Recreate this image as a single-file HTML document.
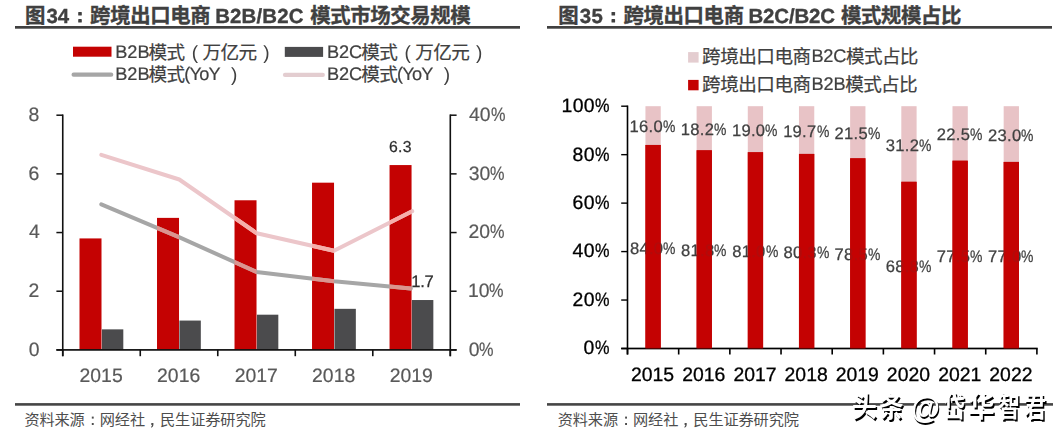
<!DOCTYPE html>
<html lang="zh">
<head>
<meta charset="utf-8">
<title>跨境出口电商 B2B/B2C 模式市场交易规模</title>
<style>
html,body{margin:0;padding:0;background:#fff;}
body{width:1062px;height:436px;overflow:hidden;position:relative;font-family:"Liberation Sans",sans-serif;}
#page{position:absolute;left:0;top:0;width:1062px;height:436px;overflow:hidden;background:#fff;}
#tx{position:absolute;left:0;top:0;width:1062px;height:436px;will-change:transform;}
svg{position:absolute;left:0;top:0;}
.t{position:absolute;white-space:pre;line-height:1;transform-origin:0 0;text-rendering:geometricPrecision;font-family:"Liberation Sans",sans-serif;}
.p{display:inline-block;transform:scaleX(0.84);transform-origin:0 0;margin-right:-0.1422em;}
.h{position:absolute;white-space:pre;line-height:1;color:transparent;font-family:"Liberation Sans",sans-serif;pointer-events:none;}
</style>
</head>
<body>
<div id="page">
<svg width="1062" height="436" viewBox="0 0 1062 436">
<rect x="15" y="26" width="505" height="2.7" fill="#404040"/>
<rect x="15" y="403.1" width="505" height="2.6" fill="#454545"/>
<text x="25.03" y="23.2" font-size="20.4" font-weight="bold" fill="#404040" stroke="#404040" stroke-width="0.35" font-family='"Liberation Sans","Noto Sans CJK SC",sans-serif'>图</text>
<rect x="78.2" y="12" width="3.6" height="3.5" fill="#404040" rx="0.6"/>
<rect x="78.2" y="19.1" width="3.6" height="3.5" fill="#404040" rx="0.6"/>
<text x="90.10 110.15 130.20 150.25 170.30 190.35" y="23.2" font-size="20.4" font-weight="bold" fill="#404040" stroke="#404040" stroke-width="0.35" font-family='"Liberation Sans","Noto Sans CJK SC",sans-serif'>跨境出口电商</text>
<text x="310.23 330.23 350.23 370.23 390.23 410.23 430.23 450.23" y="23.2" font-size="20.4" font-weight="bold" fill="#404040" stroke="#404040" stroke-width="0.35" font-family='"Liberation Sans","Noto Sans CJK SC",sans-serif'>模式市场交易规模</text>
<rect x="547" y="26" width="505" height="2.7" fill="#404040"/>
<rect x="547" y="403.1" width="506" height="2.6" fill="#454545"/>
<text x="558.33" y="23.2" font-size="20.4" font-weight="bold" fill="#404040" stroke="#404040" stroke-width="0.35" font-family='"Liberation Sans","Noto Sans CJK SC",sans-serif'>图</text>
<rect x="611.5" y="12" width="3.6" height="3.5" fill="#404040" rx="0.6"/>
<rect x="611.5" y="19.1" width="3.6" height="3.5" fill="#404040" rx="0.6"/>
<text x="623.40 643.45 663.50 683.55 703.60 723.65" y="23.2" font-size="20.4" font-weight="bold" fill="#404040" stroke="#404040" stroke-width="0.35" font-family='"Liberation Sans","Noto Sans CJK SC",sans-serif'>跨境出口电商</text>
<text x="841.03 861.03 881.03 901.03 921.03 941.03" y="23.2" font-size="20.4" font-weight="bold" fill="#404040" stroke="#404040" stroke-width="0.35" font-family='"Liberation Sans","Noto Sans CJK SC",sans-serif'>模式规模占比</text>
<text x="24.40 39.47 54.54 69.61" y="425.2" font-size="15.2" fill="#4d4d4d" font-family='"Liberation Sans","Noto Sans CJK SC",sans-serif'>资料来源</text>
<rect x="91.8" y="416.6" width="1.9" height="2" fill="#4d4d4d"/>
<rect x="91.8" y="423" width="1.9" height="2" fill="#4d4d4d"/>
<text x="99.75 114.82 129.89" y="425.2" font-size="15.2" fill="#4d4d4d" font-family='"Liberation Sans","Noto Sans CJK SC",sans-serif'>网经社</text>
<path d="M151.3 422.9h2.1v2.1q0 1.8-1.9 2.7l-.5-.8q1-.6 1-1.8h-.7z" fill="#4d4d4d"/>
<text x="160.03 175.10 190.17 205.24 220.31 235.38 250.45" y="425.2" font-size="15.2" fill="#4d4d4d" font-family='"Liberation Sans","Noto Sans CJK SC",sans-serif'>民生证券研究院</text>
<text x="557.70 572.77 587.84 602.91" y="425.2" font-size="15.2" fill="#4d4d4d" font-family='"Liberation Sans","Noto Sans CJK SC",sans-serif'>资料来源</text>
<rect x="625.1" y="416.6" width="1.9" height="2" fill="#4d4d4d"/>
<rect x="625.1" y="423" width="1.9" height="2" fill="#4d4d4d"/>
<text x="633.05 648.12 663.19" y="425.2" font-size="15.2" fill="#4d4d4d" font-family='"Liberation Sans","Noto Sans CJK SC",sans-serif'>网经社</text>
<path d="M684.6 422.9h2.1v2.1q0 1.8-1.9 2.7l-.5-.8q1-.6 1-1.8h-.7z" fill="#4d4d4d"/>
<text x="693.33 708.40 723.47 738.54 753.61 768.68 783.75" y="425.2" font-size="15.2" fill="#4d4d4d" font-family='"Liberation Sans","Noto Sans CJK SC",sans-serif'>民生证券研究院</text>
<clipPath id="redclip"><rect x="79.5" y="238.42" width="22" height="111.48"/><rect x="157.02" y="217.88" width="22" height="132.02"/><rect x="234.52" y="200.28" width="22" height="149.62"/><rect x="312.04" y="182.68" width="22" height="167.22"/><rect x="389.55" y="165.07" width="22" height="184.83"/></clipPath>
<rect x="79.5" y="238.42" width="22" height="111.48" fill="#c40202"/>
<rect x="101.91" y="329.36" width="21.4" height="20.54" fill="#4b4b4d"/>
<rect x="157.02" y="217.88" width="22" height="132.02" fill="#c40202"/>
<rect x="179.42" y="320.56" width="21.4" height="29.34" fill="#4b4b4d"/>
<rect x="234.52" y="200.28" width="22" height="149.62" fill="#c40202"/>
<rect x="256.92" y="314.69" width="21.4" height="35.2" fill="#4b4b4d"/>
<rect x="312.04" y="182.68" width="22" height="167.22" fill="#c40202"/>
<rect x="334.44" y="308.83" width="21.4" height="41.07" fill="#4b4b4d"/>
<rect x="389.55" y="165.07" width="22" height="184.83" fill="#c40202"/>
<rect x="411.94" y="300.03" width="21.4" height="49.87" fill="#4b4b4d"/>
<rect x="61.95" y="114.45" width="1.6" height="241.75" fill="#111"/>
<rect x="56.4" y="114.45" width="6.35" height="1.5" fill="#111"/>
<rect x="56.4" y="173.12" width="6.35" height="1.5" fill="#111"/>
<rect x="56.4" y="231.8" width="6.35" height="1.5" fill="#111"/>
<rect x="56.4" y="290.47" width="6.35" height="1.5" fill="#111"/>
<rect x="56.4" y="349.15" width="6.35" height="1.5" fill="#111"/>
<rect x="56.4" y="349.05" width="400.2" height="1.7" fill="#111"/>
<rect x="61.95" y="349.9" width="1.6" height="6.3" fill="#111"/>
<rect x="139.46" y="349.9" width="1.6" height="6.3" fill="#111"/>
<rect x="216.97" y="349.9" width="1.6" height="6.3" fill="#111"/>
<rect x="294.48" y="349.9" width="1.6" height="6.3" fill="#111"/>
<rect x="371.99" y="349.9" width="1.6" height="6.3" fill="#111"/>
<rect x="449.5" y="349.9" width="1.6" height="6.3" fill="#111"/>
<rect x="449.5" y="114.45" width="1.6" height="241.75" fill="#111"/>
<rect x="450.3" y="114.45" width="6.3" height="1.5" fill="#111"/>
<rect x="450.3" y="173.12" width="6.3" height="1.5" fill="#111"/>
<rect x="450.3" y="231.8" width="6.3" height="1.5" fill="#111"/>
<rect x="450.3" y="290.47" width="6.3" height="1.5" fill="#111"/>
<rect x="450.3" y="349.15" width="6.3" height="1.5" fill="#111"/>
<path d="M101.3 204.3 L179 237.2 L256.5 271.9 L334 281.3 L410.8 288.6" fill="none" stroke="#a6a6a6" stroke-width="4" stroke-linecap="round" stroke-linejoin="round"/>
<path d="M101.3 154.8 L179.3 179.5 L256.8 233.3 L334 250.7 L412.2 211.2" fill="none" stroke="#ecc6ca" stroke-width="4" stroke-linecap="round" stroke-linejoin="round"/>
<path d="M101.3 204.3 L179 237.2 L256.5 271.9 L334 281.3 L410.8 288.6" fill="none" stroke="#dc948f" stroke-width="4" stroke-linecap="round" stroke-linejoin="round" clip-path="url(#redclip)"/>
<path d="M101.3 154.8 L179.3 179.5 L256.8 233.3 L334 250.7 L412.2 211.2" fill="none" stroke="#f6aeaa" stroke-width="4" stroke-linecap="round" stroke-linejoin="round" clip-path="url(#redclip)"/>
<rect x="73" y="46.7" width="38.5" height="10" fill="#c40202"/>
<rect x="284.8" y="46.9" width="38.3" height="10" fill="#4b4b4d"/>
<line x1="73.6" y1="74.7" x2="111.2" y2="74.7" stroke="#a6a6a6" stroke-width="4.2" stroke-linecap="round"/>
<line x1="285" y1="74.9" x2="322.8" y2="74.9" stroke="#e3cdd0" stroke-width="4.2" stroke-linecap="round"/>
<text x="148.50 166.50" y="59" font-size="18.6" fill="#404040" stroke="#404040" stroke-width="0.2" font-family='"Liberation Sans","Noto Sans CJK SC",sans-serif'>模式</text>
<text x="202.50 220.50 238.50" y="59" font-size="18.6" fill="#404040" stroke="#404040" stroke-width="0.2" font-family='"Liberation Sans","Noto Sans CJK SC",sans-serif'>万亿元</text>
<text x="148.50 166.50" y="81.2" font-size="18.6" fill="#404040" stroke="#404040" stroke-width="0.2" font-family='"Liberation Sans","Noto Sans CJK SC",sans-serif'>模式</text>
<text x="361.20 379.20" y="59" font-size="18.6" fill="#404040" stroke="#404040" stroke-width="0.2" font-family='"Liberation Sans","Noto Sans CJK SC",sans-serif'>模式</text>
<text x="415.20 433.20 451.20" y="59" font-size="18.6" fill="#404040" stroke="#404040" stroke-width="0.2" font-family='"Liberation Sans","Noto Sans CJK SC",sans-serif'>万亿元</text>
<text x="361.20 379.20" y="81.2" font-size="18.6" fill="#404040" stroke="#404040" stroke-width="0.2" font-family='"Liberation Sans","Noto Sans CJK SC",sans-serif'>模式</text>
<rect x="645.44" y="106.2" width="15.3" height="39.27" fill="#e8c3c6"/>
<rect x="645.44" y="144.97" width="15.3" height="203.53" fill="#c40202"/>
<rect x="696.61" y="106.2" width="15.3" height="44.6" fill="#e8c3c6"/>
<rect x="696.61" y="150.3" width="15.3" height="198.2" fill="#c40202"/>
<rect x="747.79" y="106.2" width="15.3" height="46.54" fill="#e8c3c6"/>
<rect x="747.79" y="152.24" width="15.3" height="196.26" fill="#c40202"/>
<rect x="798.96" y="106.2" width="15.3" height="48.23" fill="#e8c3c6"/>
<rect x="798.96" y="153.93" width="15.3" height="194.57" fill="#c40202"/>
<rect x="850.14" y="106.2" width="15.3" height="52.59" fill="#e8c3c6"/>
<rect x="850.14" y="158.29" width="15.3" height="190.21" fill="#c40202"/>
<rect x="901.31" y="106.2" width="15.3" height="76.1" fill="#e8c3c6"/>
<rect x="901.31" y="181.8" width="15.3" height="166.7" fill="#c40202"/>
<rect x="952.49" y="106.2" width="15.3" height="55.02" fill="#e8c3c6"/>
<rect x="952.49" y="160.72" width="15.3" height="187.78" fill="#c40202"/>
<rect x="1003.66" y="106.2" width="15.3" height="56.23" fill="#e8c3c6"/>
<rect x="1003.66" y="161.93" width="15.3" height="186.57" fill="#c40202"/>
<rect x="626.7" y="105.5" width="1.6" height="249" fill="#000"/>
<rect x="621.2" y="105.5" width="6.3" height="1.4" fill="#000"/>
<rect x="621.2" y="153.96" width="6.3" height="1.4" fill="#000"/>
<rect x="621.2" y="202.42" width="6.3" height="1.4" fill="#000"/>
<rect x="621.2" y="250.88" width="6.3" height="1.4" fill="#000"/>
<rect x="621.2" y="299.34" width="6.3" height="1.4" fill="#000"/>
<rect x="621.2" y="347.8" width="6.3" height="1.4" fill="#000"/>
<rect x="621.2" y="347.65" width="416.5" height="1.7" fill="#000"/>
<rect x="626.7" y="348.5" width="1.6" height="6" fill="#000"/>
<rect x="677.88" y="348.5" width="1.6" height="6" fill="#000"/>
<rect x="729.05" y="348.5" width="1.6" height="6" fill="#000"/>
<rect x="780.23" y="348.5" width="1.6" height="6" fill="#000"/>
<rect x="831.4" y="348.5" width="1.6" height="6" fill="#000"/>
<rect x="882.58" y="348.5" width="1.6" height="6" fill="#000"/>
<rect x="933.75" y="348.5" width="1.6" height="6" fill="#000"/>
<rect x="984.93" y="348.5" width="1.6" height="6" fill="#000"/>
<rect x="1036.1" y="348.5" width="1.6" height="6" fill="#000"/>
<rect x="688.1" y="52.1" width="10.5" height="10.5" fill="#e4cdd0"/>
<rect x="688.1" y="79.9" width="10.5" height="10.4" fill="#c40202"/>
<text x="702.10 720.18 738.26 756.34 774.42 792.50" y="63.3" font-size="18.6" fill="#404040" stroke="#404040" stroke-width="0.2" font-family='"Liberation Sans","Noto Sans CJK SC",sans-serif'>跨境出口电商</text>
<text x="846.10 864.00 881.90 899.80" y="63.3" font-size="18.6" fill="#404040" stroke="#404040" stroke-width="0.2" font-family='"Liberation Sans","Noto Sans CJK SC",sans-serif'>模式占比</text>
<text x="702.10 720.18 738.26 756.34 774.42 792.50" y="91.1" font-size="18.6" fill="#404040" stroke="#404040" stroke-width="0.2" font-family='"Liberation Sans","Noto Sans CJK SC",sans-serif'>跨境出口电商</text>
<text x="845.30 863.20 881.10 899.00" y="91.1" font-size="18.6" fill="#404040" stroke="#404040" stroke-width="0.2" font-family='"Liberation Sans","Noto Sans CJK SC",sans-serif'>模式占比</text>
</svg>
<span class="h" style="left:25px;top:4px;font-size:20px;font-weight:bold;">图34：跨境出口电商 B2B/B2C 模式市场交易规模</span>
<span class="h" style="left:558.3px;top:4px;font-size:20px;font-weight:bold;">图35：跨境出口电商 B2C/B2C 模式规模占比</span>
<span class="h" style="left:25px;top:411px;font-size:15px;">资料来源：网经社，民生证券研究院</span>
<span class="h" style="left:558.3px;top:411px;font-size:15px;">资料来源：网经社，民生证券研究院</span>
<span class="h" style="left:116px;top:42px;font-size:18px;">B2B模式（万亿元）</span>
<span class="h" style="left:328px;top:42px;font-size:18px;">B2C模式（万亿元）</span>
<span class="h" style="left:116px;top:64px;font-size:18px;">B2B模式(YoY )</span>
<span class="h" style="left:328px;top:64px;font-size:18px;">B2C模式(YoY )</span>
<span class="h" style="left:702px;top:47px;font-size:18px;">跨境出口电商B2C模式占比</span>
<span class="h" style="left:702px;top:74.8px;font-size:18px;">跨境出口电商B2B模式占比</span>
<span class="h" style="left:853px;top:396px;font-size:26px;">头条 @岱华智君</span>
<div id="tx">
<div class="t" style="left:46.43px;top:7px;font-size:20.4px;color:#404040;font-weight:bold;-webkit-text-stroke:0.35px #404040;letter-spacing:-0.113px;">34</div>
<div class="t" style="left:215.14px;top:7px;font-size:20.4px;color:#404040;font-weight:bold;-webkit-text-stroke:0.35px #404040;letter-spacing:0.172px;">B2B/B2C</div>
<div class="t" style="left:579.73px;top:7px;font-size:20.4px;color:#404040;font-weight:bold;-webkit-text-stroke:0.35px #404040;letter-spacing:0.345px;">35</div>
<div class="t" style="left:748.54px;top:7px;font-size:20.4px;color:#404040;font-weight:bold;-webkit-text-stroke:0.35px #404040;letter-spacing:-0.144px;">B2C/B2C</div>
<div class="t" style="left:115.31px;top:43px;font-size:18.2px;color:#404040;-webkit-text-stroke:0.2px #404040;letter-spacing:-0.074px;">B2B</div>
<div class="t" style="left:191.82px;top:44px;font-size:19px;color:#404040;letter-spacing:-1.338px;">(</div>
<div class="t" style="left:263.29px;top:44px;font-size:19px;color:#404040;letter-spacing:-1.338px;">)</div>
<div class="t" style="left:115.31px;top:65px;font-size:18.2px;color:#404040;-webkit-text-stroke:0.2px #404040;letter-spacing:-0.074px;">B2B</div>
<div class="t" style="left:184.27px;top:65px;font-size:18.2px;color:#404040;-webkit-text-stroke:0.2px #404040;letter-spacing:-0.778px;">(YoY</div>
<div class="t" style="left:231.09px;top:66px;font-size:19px;color:#404040;letter-spacing:-1.238px;">)</div>
<div class="t" style="left:326.91px;top:43px;font-size:18.2px;color:#404040;-webkit-text-stroke:0.2px #404040;letter-spacing:-0.109px;">B2C</div>
<div class="t" style="left:404.52px;top:44px;font-size:19px;color:#404040;letter-spacing:-1.338px;">(</div>
<div class="t" style="left:475.99px;top:44px;font-size:19px;color:#404040;letter-spacing:-1.338px;">)</div>
<div class="t" style="left:326.91px;top:65px;font-size:18.2px;color:#404040;-webkit-text-stroke:0.2px #404040;letter-spacing:-0.109px;">B2C</div>
<div class="t" style="left:396.97px;top:65px;font-size:18.2px;color:#404040;-webkit-text-stroke:0.2px #404040;letter-spacing:-0.778px;">(YoY</div>
<div class="t" style="left:443.79px;top:66px;font-size:19px;color:#404040;letter-spacing:-1.238px;">)</div>
<div class="t" style="left:28.56px;top:106px;font-size:19.4px;color:#595959;-webkit-text-stroke:0.2px #595959;">8</div>
<div class="t" style="left:28.41px;top:165px;font-size:19.4px;color:#595959;-webkit-text-stroke:0.2px #595959;">6</div>
<div class="t" style="left:28.95px;top:223px;font-size:19.4px;color:#595959;-webkit-text-stroke:0.2px #595959;">4</div>
<div class="t" style="left:28.42px;top:282px;font-size:19.4px;color:#595959;-webkit-text-stroke:0.2px #595959;">2</div>
<div class="t" style="left:28.64px;top:341px;font-size:19.4px;color:#595959;-webkit-text-stroke:0.2px #595959;">0</div>
<div class="t" style="left:468.95px;top:106px;font-size:19.4px;color:#595959;-webkit-text-stroke:0.2px #595959;">40<span class="p">%</span></div>
<div class="t" style="left:468.66px;top:165px;font-size:19.4px;color:#595959;-webkit-text-stroke:0.2px #595959;">30<span class="p">%</span></div>
<div class="t" style="left:468.42px;top:223px;font-size:19.4px;color:#595959;-webkit-text-stroke:0.2px #595959;">20<span class="p">%</span></div>
<div class="t" style="left:467.92px;top:282px;font-size:19.4px;color:#595959;-webkit-text-stroke:0.2px #595959;">10<span class="p">%</span></div>
<div class="t" style="left:468.64px;top:341px;font-size:19.4px;color:#595959;-webkit-text-stroke:0.2px #595959;">0<span class="p">%</span></div>
<div class="t" style="left:79.55px;top:367px;font-size:19.4px;color:#595959;-webkit-text-stroke:0.2px #595959;">2015</div>
<div class="t" style="left:157.07px;top:367px;font-size:19.4px;color:#595959;-webkit-text-stroke:0.2px #595959;">2016</div>
<div class="t" style="left:234.65px;top:367px;font-size:19.4px;color:#595959;-webkit-text-stroke:0.2px #595959;">2017</div>
<div class="t" style="left:312.09px;top:367px;font-size:19.4px;color:#595959;-webkit-text-stroke:0.2px #595959;">2018</div>
<div class="t" style="left:389.64px;top:367px;font-size:19.4px;color:#595959;-webkit-text-stroke:0.2px #595959;">2019</div>
<div class="t" style="left:389px;top:140px;font-size:15.8px;color:#2e2e2e;-webkit-text-stroke:0.25px #2e2e2e;letter-spacing:0.266px;">6.3</div>
<div class="t" style="left:411.34px;top:274px;font-size:16.6px;color:#2e2e2e;-webkit-text-stroke:0.25px #2e2e2e;letter-spacing:-0.388px;">1.7</div>
<div class="t" style="left:561.5px;top:97px;font-size:19.4px;color:#000;-webkit-text-stroke:0.3px #000;letter-spacing:0.373px;">100<span class="p">%</span></div>
<div class="t" style="left:572.55px;top:146px;font-size:19.4px;color:#000;-webkit-text-stroke:0.3px #000;letter-spacing:0.433px;">80<span class="p">%</span></div>
<div class="t" style="left:572.55px;top:194px;font-size:19.4px;color:#000;-webkit-text-stroke:0.3px #000;letter-spacing:0.431px;">60<span class="p">%</span></div>
<div class="t" style="left:572.54px;top:242px;font-size:19.4px;color:#000;-webkit-text-stroke:0.3px #000;letter-spacing:0.438px;">40<span class="p">%</span></div>
<div class="t" style="left:572.55px;top:291px;font-size:19.4px;color:#000;-webkit-text-stroke:0.3px #000;letter-spacing:0.431px;">20<span class="p">%</span></div>
<div class="t" style="left:583.6px;top:339px;font-size:19.4px;color:#000;-webkit-text-stroke:0.3px #000;letter-spacing:0.599px;">0<span class="p">%</span></div>
<div class="t" style="left:631.03px;top:366px;font-size:19.4px;color:#000;-webkit-text-stroke:0.3px #000;">2015</div>
<div class="t" style="left:682.22px;top:366px;font-size:19.4px;color:#000;-webkit-text-stroke:0.3px #000;">2016</div>
<div class="t" style="left:733.46px;top:366px;font-size:19.4px;color:#000;-webkit-text-stroke:0.3px #000;">2017</div>
<div class="t" style="left:784.57px;top:366px;font-size:19.4px;color:#000;-webkit-text-stroke:0.3px #000;">2018</div>
<div class="t" style="left:835.78px;top:366px;font-size:19.4px;color:#000;-webkit-text-stroke:0.3px #000;">2019</div>
<div class="t" style="left:886.87px;top:366px;font-size:19.4px;color:#000;-webkit-text-stroke:0.3px #000;">2020</div>
<div class="t" style="left:938.14px;top:366px;font-size:19.4px;color:#000;-webkit-text-stroke:0.3px #000;">2021</div>
<div class="t" style="left:989.33px;top:366px;font-size:19.4px;color:#000;-webkit-text-stroke:0.3px #000;">2022</div>
<div class="t" style="left:629.61px;top:119px;font-size:16.6px;color:#404040;-webkit-text-stroke:0.25px #404040;letter-spacing:0.268px;">16.0<span class="p">%</span></div>
<div class="t" style="left:629.88px;top:241px;font-size:16.6px;color:#404040;-webkit-text-stroke:0.25px #404040;letter-spacing:0.272px;">84.0<span class="p">%</span></div>
<div class="t" style="left:680.79px;top:122px;font-size:16.6px;color:#404040;-webkit-text-stroke:0.25px #404040;letter-spacing:0.268px;">18.2<span class="p">%</span></div>
<div class="t" style="left:681.05px;top:243px;font-size:16.6px;color:#404040;-webkit-text-stroke:0.25px #404040;letter-spacing:0.272px;">81.8<span class="p">%</span></div>
<div class="t" style="left:731.96px;top:123px;font-size:16.6px;color:#404040;-webkit-text-stroke:0.25px #404040;letter-spacing:0.268px;">19.0<span class="p">%</span></div>
<div class="t" style="left:732.23px;top:244px;font-size:16.6px;color:#404040;-webkit-text-stroke:0.25px #404040;letter-spacing:0.272px;">81.0<span class="p">%</span></div>
<div class="t" style="left:783.14px;top:124px;font-size:16.6px;color:#404040;-webkit-text-stroke:0.25px #404040;letter-spacing:0.268px;">19.7<span class="p">%</span></div>
<div class="t" style="left:783.4px;top:245px;font-size:16.6px;color:#404040;-webkit-text-stroke:0.25px #404040;letter-spacing:0.272px;">80.3<span class="p">%</span></div>
<div class="t" style="left:834.52px;top:126px;font-size:16.6px;color:#404040;-webkit-text-stroke:0.25px #404040;letter-spacing:0.271px;">21.5<span class="p">%</span></div>
<div class="t" style="left:834.52px;top:247px;font-size:16.6px;color:#404040;-webkit-text-stroke:0.25px #404040;letter-spacing:0.271px;">78.5<span class="p">%</span></div>
<div class="t" style="left:885.8px;top:138px;font-size:16.6px;color:#404040;-webkit-text-stroke:0.25px #404040;letter-spacing:0.272px;">31.2<span class="p">%</span></div>
<div class="t" style="left:885.69px;top:259px;font-size:16.6px;color:#404040;-webkit-text-stroke:0.25px #404040;letter-spacing:0.271px;">68.8<span class="p">%</span></div>
<div class="t" style="left:936.87px;top:127px;font-size:16.6px;color:#404040;-webkit-text-stroke:0.25px #404040;letter-spacing:0.271px;">22.5<span class="p">%</span></div>
<div class="t" style="left:936.87px;top:249px;font-size:16.6px;color:#404040;-webkit-text-stroke:0.25px #404040;letter-spacing:0.271px;">77.5<span class="p">%</span></div>
<div class="t" style="left:988.05px;top:128px;font-size:16.6px;color:#404040;-webkit-text-stroke:0.25px #404040;letter-spacing:0.271px;">23.0<span class="p">%</span></div>
<div class="t" style="left:988.04px;top:249px;font-size:16.6px;color:#404040;-webkit-text-stroke:0.25px #404040;letter-spacing:0.271px;">77.0<span class="p">%</span></div>
<div class="t" style="left:811.41px;top:47px;font-size:18.2px;color:#404040;-webkit-text-stroke:0.2px #404040;letter-spacing:-0.259px;">B2C</div>
<div class="t" style="left:811.41px;top:75px;font-size:18.2px;color:#404040;-webkit-text-stroke:0.2px #404040;letter-spacing:-0.124px;">B2B</div>
</div>
<svg width="1062" height="436" viewBox="0 0 1062 436">
<rect x="645.44" y="144.97" width="15.3" height="203.53" fill="#c40202" opacity="0.86"/>
<rect x="696.61" y="150.3" width="15.3" height="198.2" fill="#c40202" opacity="0.86"/>
<rect x="747.79" y="152.24" width="15.3" height="196.26" fill="#c40202" opacity="0.86"/>
<rect x="798.96" y="153.93" width="15.3" height="194.57" fill="#c40202" opacity="0.86"/>
<rect x="850.14" y="158.29" width="15.3" height="190.21" fill="#c40202" opacity="0.86"/>
<rect x="901.31" y="181.8" width="15.3" height="166.7" fill="#c40202" opacity="0.86"/>
<rect x="952.49" y="160.72" width="15.3" height="187.78" fill="#c40202" opacity="0.86"/>
<rect x="1003.66" y="161.93" width="15.3" height="186.57" fill="#c40202" opacity="0.86"/>
</svg>
<svg width="1062" height="436" viewBox="0 0 1062 436"><g font-size="28" font-weight="bold" fill="#000" font-family='"Liberation Sans","Noto Sans CJK SC",sans-serif'><text transform="translate(853.56 418.8) scale(0.8861 1)">头</text><text transform="translate(880.75 418.8) scale(0.8654 1)">条</text><text transform="translate(945.04 418.8) scale(0.7657 1)">岱</text><text transform="translate(969.33 418.8) scale(0.9543 1)">华</text><text transform="translate(999.23 418.8) scale(0.7921 1)">智</text><text transform="translate(1025.26 418.8) scale(0.7979 1)">君</text></g></svg>
<div class="t" style="left:912.4px;top:394px;font-size:31.0px;font-weight:bold;color:#000;transform:scaleX(0.9604);">@</div>
<svg width="1062" height="436" viewBox="0 0 1062 436"><g font-size="28" font-weight="bold" fill="#fff" font-family='"Liberation Sans","Noto Sans CJK SC",sans-serif'><text transform="translate(852.06 416.9) scale(0.8861 1)">头</text><text transform="translate(879.25 416.9) scale(0.8654 1)">条</text><text transform="translate(943.54 416.9) scale(0.7657 1)">岱</text><text transform="translate(967.83 416.9) scale(0.9543 1)">华</text><text transform="translate(997.73 416.9) scale(0.7921 1)">智</text><text transform="translate(1023.76 416.9) scale(0.7979 1)">君</text></g></svg>
<div class="t" style="left:910.9px;top:392px;font-size:31.0px;font-weight:bold;color:#fff;transform:scaleX(0.9604);">@</div>
</div>
</body>
</html>
